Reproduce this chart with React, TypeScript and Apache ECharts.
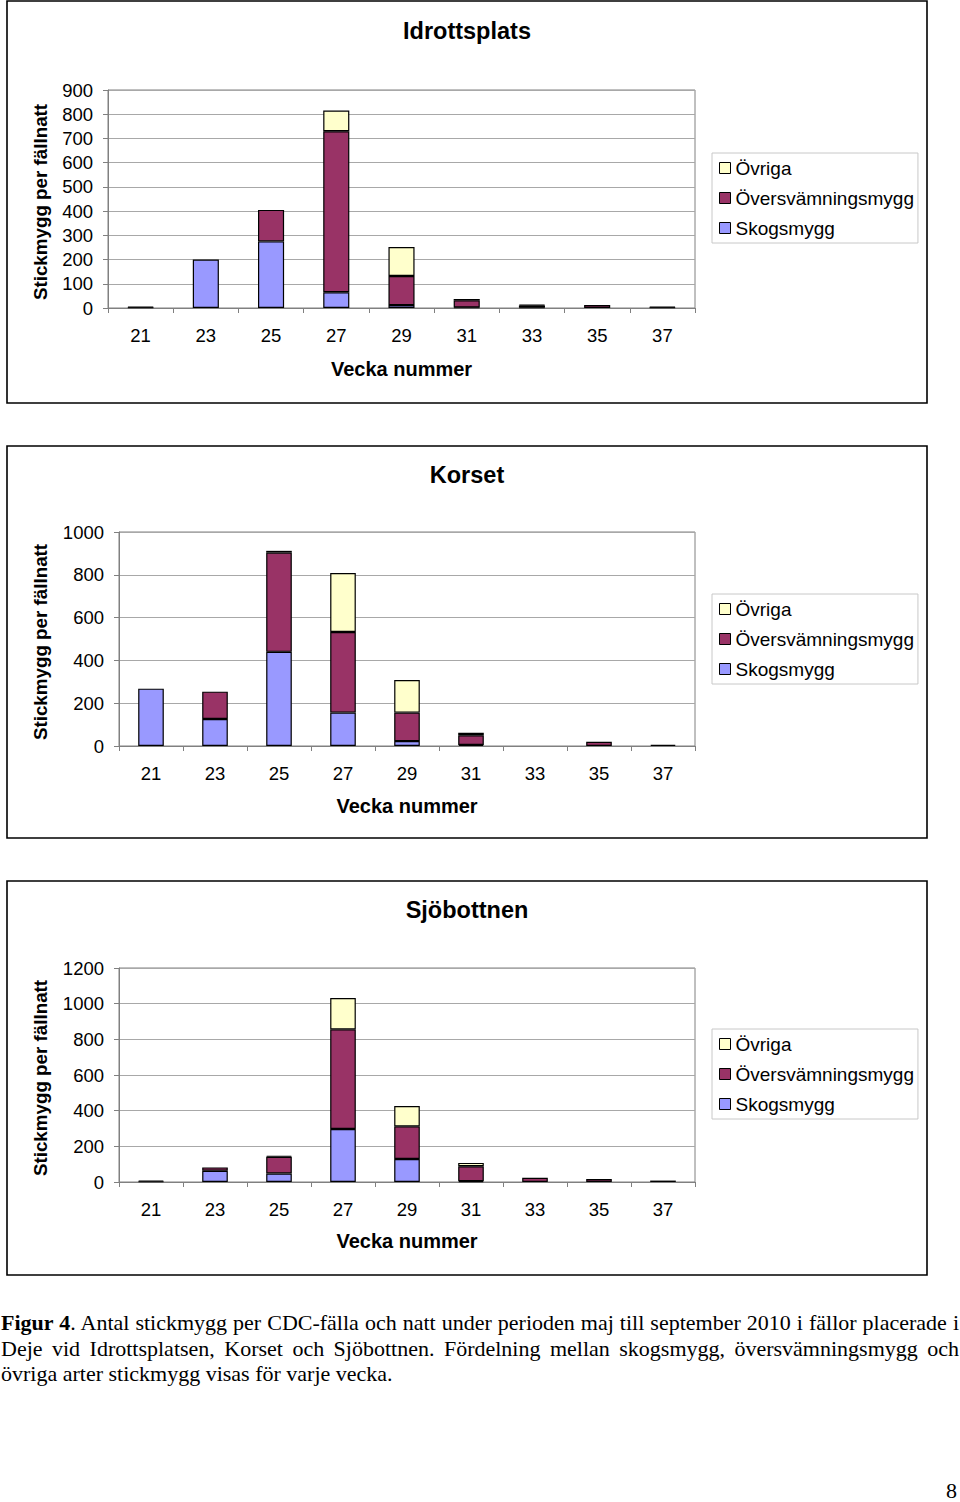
import React, { useEffect, useRef } from 'react';
import * as echarts from 'echarts';

const weeks = ['21', '23', '25', '27', '29', '31', '33', '35', '37'];

// Idrottsplats
const skog1 = [2, 200, 275, 65, 12, 2, 2, 0, 2];
const over1 = [3, 0, 130, 665, 120, 30, 8, 12, 3];
const ovr1 = [0, 0, 0, 85, 120, 5, 3, 0, 0];

// Korset
const skog2 = [268, 126, 440, 156, 23, 5, 0, 0, 0];
const over2 = [0, 128, 464, 377, 133, 45, 0, 20, 5];
const ovr2 = [0, 0, 8, 275, 152, 12, 0, 0, 0];

// Sjöbottnen
const skog3 = [3, 63, 48, 297, 129, 5, 0, 0, 0];
const over3 = [5, 19, 94, 559, 183, 83, 24, 17, 8];
const ovr3 = [0, 0, 5, 176, 114, 19, 0, 0, 0];

const titles = ['Idrottsplats', 'Korset', 'Sjöbottnen'];
const yMax = [900, 1000, 1200];
const yStep = [100, 200, 200];
const seriesNames = ['Skogsmygg', 'Översvämningsmygg', 'Övriga'];
const legendOrder = ['Övriga', 'Översvämningsmygg', 'Skogsmygg'];
const yName = 'Stickmygg per fällnatt';
const xName = 'Vecka nummer';

const FONT = '"Liberation Sans", Arial, sans-serif';
const colors = ['#9999FF', '#993366', '#FFFFCC'];

const panels = [
  { box: [7, 1, 920, 402], grid: [108, 90, 587, 218], legendTop: 153, titleY: 31, yNameY: 202, xNameY: 369 },
  { box: [7, 446, 920, 392], grid: [119, 532, 576, 214], legendTop: 594, titleY: 475, yNameY: 642, xNameY: 806 },
  { box: [7, 881, 920, 394], grid: [119, 968, 576, 214], legendTop: 1029, titleY: 910, yNameY: 1078, xNameY: 1241 },
];

const dataSets = [
  [skog1, over1, ovr1],
  [skog2, over2, ovr2],
  [skog3, over3, ovr3],
];

function buildOption() {
  const grid: any[] = [];
  const xAxis: any[] = [];
  const yAxis: any[] = [];
  const series: any[] = [];
  const legend: any[] = [];
  const graphic: any[] = [];

  panels.forEach((p, i) => {
    const [gl, gt, gw, gh] = p.grid;
    grid.push({ left: gl, top: gt, width: gw, height: gh, show: true, borderColor: '#808080', borderWidth: 1, backgroundColor: '#fff' });
    xAxis.push({
      type: 'category', gridIndex: i, data: weeks, boundaryGap: true,
      axisLine: { show: true, lineStyle: { color: '#808080', width: 1 } },
      axisTick: { show: true, length: 5, lineStyle: { color: '#808080' } },
      axisLabel: { color: '#000', fontSize: 18.5, fontFamily: FONT, margin: 18 },
    });
    yAxis.push({
      type: 'value', gridIndex: i, min: 0, max: yMax[i], interval: yStep[i],
      axisLine: { show: true, lineStyle: { color: '#808080', width: 1 } },
      axisTick: { show: true, length: 5, lineStyle: { color: '#808080' } },
      axisLabel: { color: '#000', fontSize: 18.5, fontFamily: FONT, margin: 15, formatter: (v: number) => String(v) },
      splitLine: { show: true, lineStyle: { color: '#a8a8a8', width: 1 } },
    });
    dataSets[i].forEach((arr, k) => {
      series.push({
        type: 'bar', name: seriesNames[k], xAxisIndex: i, yAxisIndex: i, stack: 'st' + i,
        barWidth: '40%',
        data: arr.map((v) => (v === 0 ? '-' : v)),
        itemStyle: { color: colors[k], borderColor: '#000', borderWidth: 1.2 },
        emphasis: { disabled: true },
      });
    });
    legend.push({
      data: legendOrder, orient: 'vertical', left: 712, top: p.legendTop,
      padding: [5, 4, 5, 7], itemGap: 10, itemWidth: 11, itemHeight: 11,
      icon: 'rect', selectedMode: false,
      borderColor: '#c8c8c8', borderWidth: 1,
      itemStyle: { borderColor: '#000', borderWidth: 1 },
      textStyle: { fontSize: 19, fontFamily: FONT, color: '#000', lineHeight: 20, padding: [0, 0, 0, 0] },
    });
    const [bx, by, bw, bh] = p.box;
    graphic.push({ type: 'rect', shape: { x: bx, y: by, width: bw, height: bh }, style: { fill: 'none', stroke: '#000', lineWidth: 1.6 }, z: 10 });
    graphic.push({ type: 'text', x: 467, y: p.titleY, style: { text: titles[i], align: 'center', verticalAlign: 'middle', font: `bold 23.5px ${FONT}`, fill: '#000' } });
    graphic.push({ type: 'text', x: 40, y: p.yNameY, rotation: Math.PI / 2, style: { text: yName, align: 'center', verticalAlign: 'middle', font: `bold 18.8px ${FONT}`, fill: '#000' } });
    graphic.push({ type: 'text', x: gl + gw / 2, y: p.xNameY, style: { text: xName, align: 'center', verticalAlign: 'middle', font: `bold 20px ${FONT}`, fill: '#000' } });
  });

  return {
    animation: false,
    backgroundColor: '#fff',
    grid, xAxis, yAxis, series, legend, graphic,
  };
}

export default function App() {
  const ref = useRef<HTMLDivElement>(null);
  useEffect(() => {
    const chart = echarts.init(ref.current!, null, { renderer: 'svg' });
    chart.setOption(buildOption() as any);
    return () => chart.dispose();
  }, []);
  const lineStyle: React.CSSProperties = { display: 'block', textAlign: 'justify', textAlignLast: 'justify', whiteSpace: 'nowrap' };
  return (
    <div style={{ position: 'absolute', left: 0, top: 0, width: 960, height: 1502, background: '#fff' }}>
      <div ref={ref} style={{ position: 'absolute', left: 0, top: 0, width: 960, height: 1290 }} />
      <div style={{ position: 'absolute', left: 1, top: 1310, width: 958, fontFamily: '"Liberation Serif", "Times New Roman", serif', fontSize: 22, lineHeight: '25.5px', color: '#000' }}>
        <div style={lineStyle}><b>Figur 4</b>. Antal stickmygg per CDC-fälla och natt under perioden maj till september 2010 i fällor placerade i</div>
        <div style={lineStyle}>Deje vid Idrottsplatsen, Korset och Sjöbottnen. Fördelning mellan skogsmygg, översvämningsmygg och</div>
        <div style={{ display: 'block' }}>övriga arter stickmygg visas för varje vecka.</div>
      </div>
      <div style={{ position: 'absolute', left: 946, top: 1478, fontFamily: '"Liberation Serif", "Times New Roman", serif', fontSize: 22, color: '#000' }}>8</div>
    </div>
  );
}
